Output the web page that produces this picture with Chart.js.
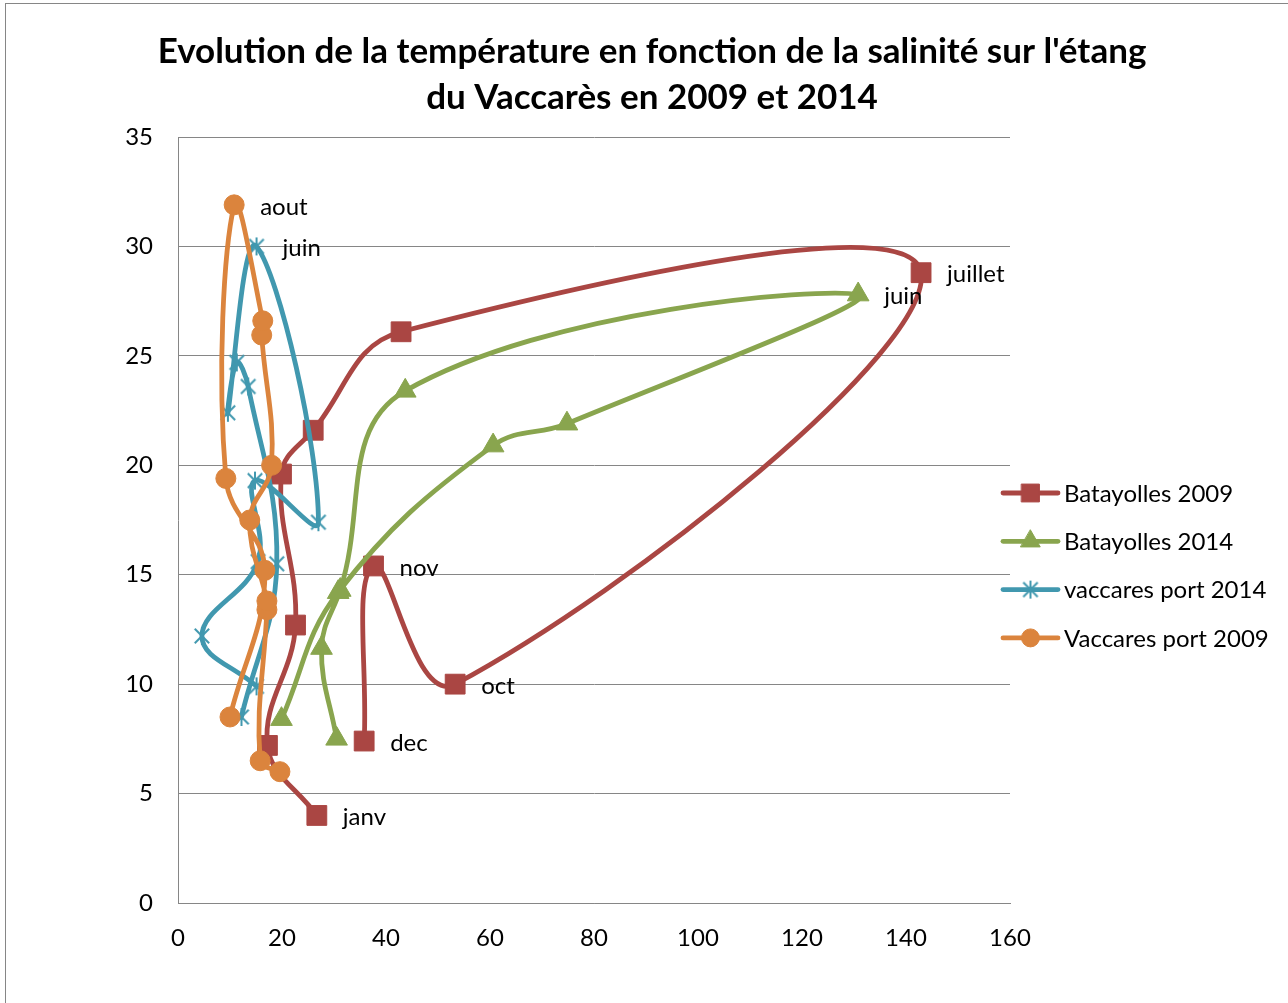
<!DOCTYPE html>
<html>
<head>
<meta charset="utf-8">
<script src="https://cdn.jsdelivr.net/npm/chart.js@4.4.1/dist/chart.umd.min.js"></script>
<style>
  html, body { margin: 0; padding: 0; background: #fff; }
  #wrap { position: relative; width: 1288px; height: 1003px; overflow: hidden; }
</style>
</head>
<body>
<div id="wrap"><canvas id="chart" width="1288" height="1003"></canvas></div>
<script>
// salinity (x) / temperature (y), in the order the curves are drawn
const bat09Sal = [26.7, 17.2, 22.6, 19.9, 26.0, 42.9, 142.9, 53.3, 37.6, 35.8];
const bat09Temp = [4.0, 7.2, 12.7, 19.6, 21.6, 26.1, 28.8, 10.0, 15.4, 7.4];
const bat09Names = ["janv", "", "", "", "", "", "juillet", "oct", "nov", "dec"];

const bat14Sal = [30.5, 27.6, 31.2, 43.7, 130.8, 74.8, 60.6, 30.8, 19.9];
const bat14Temp = [7.5, 11.65, 14.3, 23.4, 27.8, 21.9, 20.9, 14.2, 8.4];
const bat14Names = ["", "", "", "", "juin", "", "", "", ""];

const vac14Sal = [15.1, 4.6, 15.4, 14.8, 27.0, 15.1, 9.6, 11.3, 13.5, 19.0, 12.2];
const vac14Temp = [9.9, 12.2, 15.6, 19.3, 17.4, 30.0, 22.4, 24.7, 23.6, 15.5, 8.5];
const vac14Names = ["", "", "", "", "", "juin", "", "", "", "", ""];

const vac09Sal = [19.6, 15.8, 17.1, 17.1, 13.8, 18.0, 16.1, 16.3, 10.8, 9.2, 16.7, 10.0];
const vac09Temp = [6.0, 6.5, 13.4, 13.8, 17.5, 20.0, 25.95, 26.6, 31.9, 19.4, 15.2, 8.5];
const vac09Names = ["", "", "", "", "", "", "", "", "aout", "", "", ""];

const seriesNames = ["Batayolles 2009", "Batayolles 2014", "vaccares port 2014", "Vaccares port 2009"];
const titleLines = ["Evolution de la température en fonction de la salinité sur l'étang", "du Vaccarès en 2009 et 2014"];
const xTicksMax = 160, xStep = 20;
const yTicksMax = 35, yStep = 5;

const FONT = 'Lato, "Liberation Sans", sans-serif';
const RED = "#AA4643", GREEN = "#89A54E", TEAL = "#4198AF", ORANGE = "#DB843D";
const GRID = "#868686";

function toPoints(xs, ys) {
  return xs.map((x, i) => ({ x: x, y: ys[i] }));
}

// excel-like asterisk marker
function asterisk(size, color) {
  const c = document.createElement("canvas");
  c.width = size; c.height = size;
  const g = c.getContext("2d");
  g.strokeStyle = color;
  g.lineWidth = 2;
  const m = size / 2, r = size / 2 - 2;
  g.beginPath();
  g.moveTo(m - r * 0.8, m - r * 0.8); g.lineTo(m + r * 0.8, m + r * 0.8);
  g.moveTo(m + r * 0.8, m - r * 0.8); g.lineTo(m - r * 0.8, m + r * 0.8);
  g.moveTo(m, m - r); g.lineTo(m, m + r);
  g.stroke();
  return c;
}

function series(label, xs, ys, names, color, style, radius, order) {
  return {
    label: label,
    data: toPoints(xs, ys),
    pointNames: names,
    showLine: true,
    fill: false,
    tension: 0.4,
    borderColor: color,
    backgroundColor: color,
    borderWidth: 4.8,
    borderJoinStyle: "round",
    borderCapStyle: "round",
    pointStyle: style,
    pointRadius: radius,
    pointBackgroundColor: color,
    pointBorderColor: color,
    pointBorderWidth: 1,
    order: order
  };
}

const framePlugin = {
  id: "frame",
  beforeDraw(chart) {
    const ctx = chart.ctx;
    ctx.save();
    ctx.fillStyle = "#fff";
    ctx.fillRect(0, 0, chart.width, chart.height);
    ctx.strokeStyle = GRID;
    ctx.lineWidth = 1;
    ctx.strokeRect(5.5, 3.5, 2000, 2000);
    ctx.restore();
  }
};

const pointNamesPlugin = {
  id: "pointNames",
  afterDatasetsDraw(chart) {
    const ctx = chart.ctx;
    ctx.save();
    ctx.font = "24px " + FONT;
    ctx.fillStyle = "#000";
    ctx.textAlign = "left";
    ctx.textBaseline = "middle";
    chart.data.datasets.forEach((ds, i) => {
      const meta = chart.getDatasetMeta(i);
      ds.pointNames.forEach((name, j) => {
        if (!name) return;
        const p = meta.data[j];
        ctx.fillText(name, p.x + 26, p.y + 2);
      });
    });
    ctx.restore();
  }
};

const sideLegend = {
  id: "sideLegend",
  afterDraw(chart) {
    const ctx = chart.ctx;
    const right = chart.chartArea.right;
    chart.data.datasets.forEach((ds, i) => {
      const y = 493 + i * 48.3;
      const x0 = right - 7, x1 = right + 48;
      ctx.save();
      ctx.strokeStyle = ds.borderColor;
      ctx.lineWidth = ds.borderWidth;
      ctx.lineCap = "round";
      ctx.beginPath();
      ctx.moveTo(x0, y);
      ctx.lineTo(x1, y);
      ctx.stroke();
      ctx.fillStyle = ds.backgroundColor;
      ctx.strokeStyle = ds.borderColor;
      ctx.lineWidth = 1;
      Chart.helpers.drawPoint(ctx, { pointStyle: ds.pointStyle, radius: ds.pointRadius * 0.9, borderWidth: 1, rotation: 0 }, (x0 + x1) / 2, y);
      ctx.font = "24px " + FONT;
      ctx.fillStyle = "#000";
      ctx.textAlign = "left";
      ctx.textBaseline = "middle";
      ctx.fillText(ds.label, x1 + 6, y + 1);
      ctx.restore();
    });
  }
};

function draw() {
  Chart.defaults.font.family = FONT;
  Chart.defaults.color = "#000";

  new Chart(document.getElementById("chart"), {
    type: "scatter",
    data: {
      datasets: [
        series(seriesNames[0], bat09Sal, bat09Temp, bat09Names, RED, "rect", 14, 4),
        series(seriesNames[1], bat14Sal, bat14Temp, bat14Names, GREEN, "triangle", 12.5, 3),
        series(seriesNames[2], vac14Sal, vac14Temp, vac14Names, TEAL, asterisk(22, TEAL), 10, 2),
        series(seriesNames[3], vac09Sal, vac09Temp, vac09Names, ORANGE, "circle", 10, 1)
      ]
    },
    options: {
      responsive: false,
      animation: false,
      events: [],
      layout: { padding: { left: 16, right: 0, top: 0, bottom: 0 } },
      plugins: {
        legend: { display: false },
        tooltip: { enabled: false },
        title: {
          display: true,
          text: titleLines,
          color: "#000",
          font: { size: 35, weight: "bold", lineHeight: "46px" },
          padding: { top: 29, bottom: 16 }
        }
      },
      scales: {
        x: {
          type: "linear",
          min: 0,
          max: xTicksMax,
          ticks: { stepSize: xStep, padding: 13, font: { size: 24 }, color: "#000" },
          grid: { display: false },
          border: { display: true, color: GRID, width: 1 },
          afterFit: (s) => { s.height = 100; }
        },
        y: {
          type: "linear",
          min: 0,
          max: yTicksMax,
          ticks: { stepSize: yStep, padding: 25, font: { size: 24 }, color: "#000" },
          grid: { color: GRID, drawTicks: false },
          border: { display: true, color: GRID, width: 1 },
          afterFit: (s) => { s.width = 162; }
        },
        yRight: {
          type: "linear",
          position: "right",
          ticks: { display: false },
          grid: { display: false },
          border: { display: false },
          afterFit: (s) => { s.width = 278; }
        }
      }
    },
    plugins: [framePlugin, pointNamesPlugin, sideLegend]
  });
}

Promise.all([
  document.fonts.load("24px Lato"),
  document.fonts.load("bold 35px Lato")
]).then(draw, draw);
</script>
</body>
</html>
